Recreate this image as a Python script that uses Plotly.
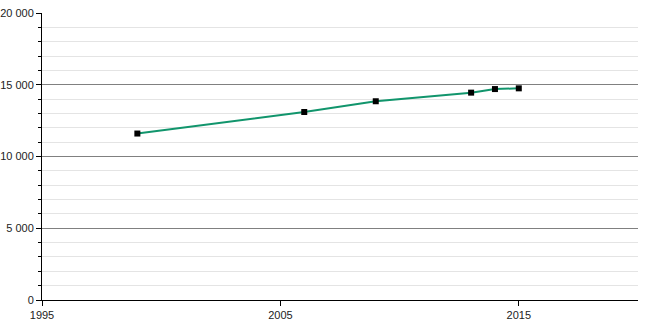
import plotly.graph_objects as go

years = [1999, 2006, 2009, 2013, 2014, 2015]
values = [11600, 13100, 13850, 14450, 14700, 14750]

fig = go.Figure()
fig.add_trace(go.Scatter(
    x=years, y=values, mode="lines+markers",
    line=dict(color="#11956c", width=2),
    marker=dict(symbol="square", size=6, color="black"),
    showlegend=False,
    cliponaxis=False,
))

fig.update_layout(
    width=650, height=320,
    margin=dict(l=42, r=12, t=13, b=20, autoexpand=False),
    paper_bgcolor="white", plot_bgcolor="white",
    separators=", ",
    font=dict(family="Liberation Sans, Arial, sans-serif", size=11, color="#222"),
    xaxis=dict(
        range=[1995, 2020], tick0=1995, dtick=10,
        showgrid=False, zeroline=False, automargin=False,
        showline=True, linecolor="black", linewidth=1,
        ticks="outside", ticklen=5, tickcolor="black",
    ),
    yaxis=dict(
        range=[0, 20000], tick0=0, dtick=5000, tickformat=",d",
        showgrid=True, gridcolor="#808080", gridwidth=1,
        zeroline=False, automargin=False,
        showline=True, linecolor="black", linewidth=1,
        ticks="outside", ticklen=5, tickcolor="black",
        minor=dict(dtick=1000, showgrid=True, gridcolor="#e4e4e4",
                   ticks="outside", ticklen=3, tickcolor="black"),
    ),
)

fig.write_html("out.html")
